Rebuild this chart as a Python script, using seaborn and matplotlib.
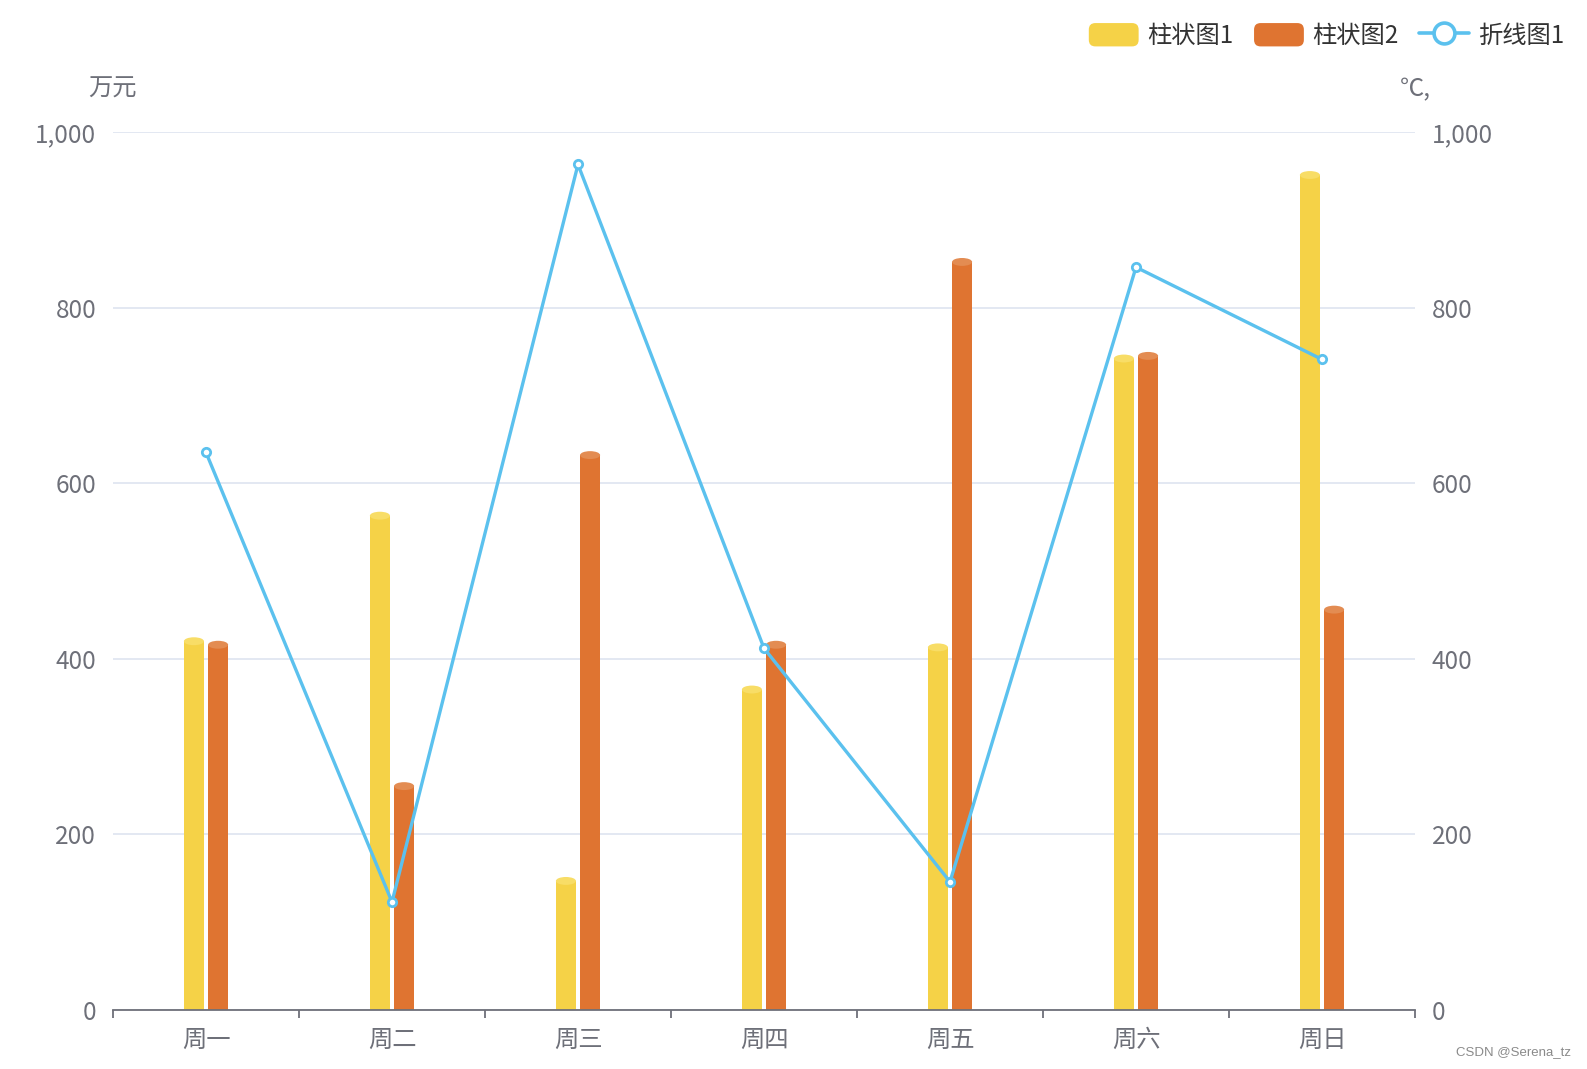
import matplotlib
matplotlib.use("Agg")
import matplotlib.pyplot as plt
import seaborn as sns
import pandas as pd
from matplotlib.patches import Ellipse, FancyBboxPatch, Patch
from matplotlib.lines import Line2D
from matplotlib.legend_handler import HandlerPatch

days = ["周一", "周二", "周三", "周四", "周五", "周六", "周日"]
bar1 = [420, 563, 147, 365, 413, 742, 951]
bar2 = [416, 255, 632, 416, 852, 745, 456]
line1 = [635, 123, 963, 412, 146, 846, 741]
yticks = [0, 200, 400, 600, 800, 1000]
ytick_labels = ["0", "200", "400", "600", "800", "1,000"]
series_names = ["柱状图1", "柱状图2", "折线图1"]

c_yellow = "#F5D247"
c_yellow_top = "#F8DD66"
c_orange = "#DF7431"
c_orange_top = "#E38C52"
c_line = "#5BC1EE"
c_axis = "#6E7079"
c_grid = "#E0E6F1"
FS = 17.5

sns.set_theme(style="white")
plt.rcParams["font.family"] = ["Noto Sans CJK SC", "DejaVu Sans"]

df = pd.DataFrame({
    "day": days * 2,
    "value": bar1 + bar2,
    "series": [series_names[0]] * 7 + [series_names[1]] * 7,
})

fig = plt.figure(figsize=(15.87, 10.69), dpi=100)
ax = fig.add_axes([113 / 1587, 1 - 1010 / 1069, (1415 - 113) / 1587, (1010 - 132) / 1069])

sns.barplot(data=df, x="day", y="value", hue="series", order=days,
            hue_order=series_names[:2], palette=[c_yellow, c_orange],
            width=0.26, gap=0.17, saturation=1, legend=False, ax=ax,
            edgecolor="none", linewidth=0, zorder=3)

# cylinder tops
eh = 9.0
for p in list(ax.patches):
    h = p.get_height()
    if h <= 0:
        continue
    fc = p.get_facecolor()
    top = c_yellow_top if abs(fc[1] - matplotlib.colors.to_rgba(c_yellow)[1]) < 0.05 else c_orange_top
    e = Ellipse((p.get_x() + p.get_width() / 2, p.get_y() + h), p.get_width(), eh,
                facecolor=top, edgecolor="none", zorder=4)
    ax.add_patch(e)

ax.set_ylim(0, 1000)
ax.set_xlim(-0.5, 6.5)
ax.set_yticks(yticks)
ax.set_yticklabels(ytick_labels)
ax.yaxis.grid(True, color=c_grid, linewidth=1.3, zorder=0)
ax.set_axisbelow(True)
for s in ["left", "right", "top"]:
    ax.spines[s].set_visible(False)
ax.spines["bottom"].set_color(c_axis)
ax.spines["bottom"].set_linewidth(1.3)
ax.spines["bottom"].set_zorder(5)
ax.set_xlabel("")
ax.set_ylabel("")
ax.tick_params(axis="y", length=0, pad=12, labelsize=FS, labelcolor=c_axis)
ax.tick_params(axis="x", which="major", length=0, pad=12, labelsize=FS, labelcolor=c_axis)
ax.set_xticks([i - 0.5 for i in range(8)], minor=True)
ax.tick_params(axis="x", which="minor", bottom=True, length=6, width=1.3,
               color=c_axis, direction="out")

ax2 = ax.twinx()
sns.lineplot(x=days, y=line1, sort=False, color=c_line, linewidth=2.4,
             marker="o", markersize=6, markerfacecolor="white",
             markeredgecolor=c_line, markeredgewidth=2, ax=ax2, zorder=6)
ax2.set_ylim(0, 1000)
ax2.set_yticks(yticks)
ax2.set_yticklabels(ytick_labels)
ax2.tick_params(axis="y", length=0, pad=12, labelsize=FS, labelcolor=c_axis)
for s in ["left", "right", "top", "bottom"]:
    ax2.spines[s].set_visible(False)
ax2.set_ylabel("")
ax2.grid(False)

fig.text(112 / 1587, 1 - 89 / 1069, "万元", ha="center", va="center",
         fontsize=FS, color=c_axis)
fig.text(1415 / 1587, 1 - 89 / 1069, "℃,", ha="center", va="center",
         fontsize=FS, color=c_axis)


class HandlerRound(HandlerPatch):
    def create_artists(self, legend, orig_handle, xdescent, ydescent, width, height, fontsize, trans):
        p = FancyBboxPatch((-xdescent, -ydescent), width, height,
                           boxstyle="round,pad=0,rounding_size=%f" % (height * 0.28),
                           facecolor=orig_handle.get_facecolor(), edgecolor="none",
                           transform=trans)
        return [p]


handles = [
    Patch(facecolor=c_yellow, label=series_names[0]),
    Patch(facecolor=c_orange, label=series_names[1]),
    Line2D([0], [0], color=c_line, linewidth=2.6, marker="o", markersize=15,
           markerfacecolor="white", markeredgecolor=c_line, markeredgewidth=2.6,
           label=series_names[2]),
]
leg = fig.legend(handles=handles, loc="center right",
                 bbox_to_anchor=(1564 / 1587, 1 - 36 / 1069), ncol=3, frameon=False,
                 fontsize=FS, handlelength=2.05, handleheight=1.1, handletextpad=0.35,
                 columnspacing=0.85, borderpad=0, borderaxespad=0,
                 handler_map={Patch: HandlerRound()})
for t in leg.get_texts():
    t.set_color("#333333")

fig.text(1571 / 1587, 1 - 1052 / 1069, "CSDN @Serena_tz", ha="right", va="center",
         fontsize=9.5, color="#8a8a8a", family=["Liberation Sans", "DejaVu Sans"])

fig.savefig("out.png", dpi=100)
